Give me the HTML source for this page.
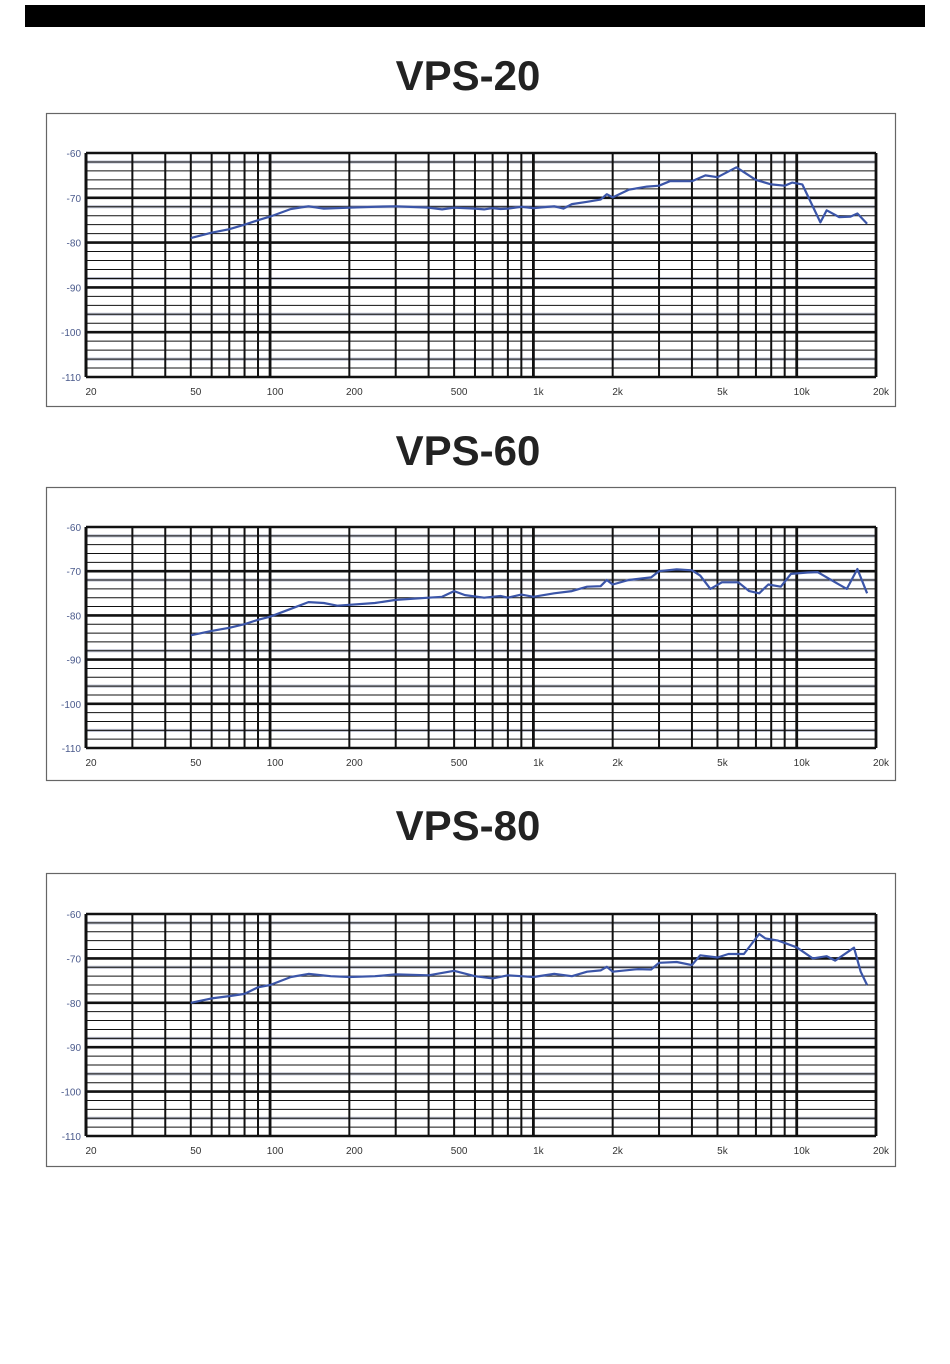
<!DOCTYPE html>
<html><head><meta charset="utf-8"><style>
body{margin:0;background:#fff;width:950px;height:1359px;overflow:hidden;font-family:"Liberation Sans",sans-serif}
</style></head><body>
<svg id="svg" width="950" height="1359" xmlns="http://www.w3.org/2000/svg">
<rect x="25" y="5" width="900" height="22" fill="#000"/>
</svg>
<script>
const titles=["VPS-20","VPS-60","VPS-80"];
const freqs1=[50,60,70,80,90,100,120,140,160,200,250,300,400,450,500,600,650,700,750,800,900,1000,1200,1300,1400,1600,1800,1900,2000,2300,2700,3000,3300,4000,4500,5000,5900,7000,8000,9000,9600,10500,12300,13000,14500,16000,17000,18500];
const db1=[-79,-77.8,-77,-76,-75,-74.2,-72.5,-71.9,-72.4,-72.2,-72,-71.9,-72.2,-72.6,-72.2,-72.4,-72.6,-72.3,-72.5,-72.4,-72,-72.3,-71.9,-72.4,-71.4,-70.9,-70.4,-69.2,-69.9,-68.2,-67.5,-67.3,-66.3,-66.3,-65,-65.4,-63.2,-66,-67,-67.3,-66.6,-67,-75.5,-72.8,-74.3,-74.2,-73.5,-75.8];
const freqs2=[50,60,70,80,90,100,120,140,160,180,250,300,400,450,500,550,650,750,800,900,1000,1200,1400,1600,1800,1900,2000,2300,2800,3000,3500,4000,4300,4700,5200,6000,6600,7200,7800,8700,9500,11000,12000,14000,15500,17000,18500];
const db2=[-84.5,-83.5,-82.8,-82,-81,-80.3,-78.5,-77,-77.2,-77.8,-77.2,-76.5,-76,-75.8,-74.5,-75.4,-76,-75.6,-76,-75.3,-75.8,-75,-74.5,-73.5,-73.4,-72,-73,-72,-71.4,-70,-69.6,-69.8,-71,-74,-72.5,-72.5,-74.5,-75,-73,-73.5,-70.6,-70.3,-70.2,-72.5,-74,-69.5,-75];
const freqs3=[50,60,70,80,90,100,120,140,170,200,250,300,400,500,600,700,800,900,1000,1200,1400,1600,1800,1900,2000,2500,2800,3000,3500,4000,4300,5000,5500,6300,7200,7600,8500,10000,11500,13000,14000,16500,17500,18500];
const db3=[-80,-79,-78.5,-78,-76.5,-76,-74.2,-73.5,-74,-74.2,-74,-73.6,-73.8,-72.8,-74,-74.5,-73.8,-74,-74.2,-73.5,-74,-73,-72.7,-71.9,-73,-72.4,-72.5,-71,-70.8,-71.5,-69.3,-69.8,-69,-69,-64.5,-65.5,-66,-67.5,-70,-69.5,-70.5,-67.6,-73,-76];
const xTickVals=[20,50,100,200,500,1000,2000,5000,10000,20000];
const xTickLabels=["20","50","100","200","500","1k","2k","5k","10k","20k"];
const yTickVals=[-60,-70,-80,-90,-100,-110];
const series=[[freqs1,db1],[freqs2,db2],[freqs3,db3]];
const svg=document.getElementById('svg');
const NS="http://www.w3.org/2000/svg";
function mk(tag,attrs,parent){const e=document.createElementNS(NS,tag);for(const k in attrs)e.setAttribute(k,attrs[k]);(parent||svg).appendChild(e);return e;}
const charts=[{ty:75,box:113,top:153,bot:377},{ty:450,box:487,top:527,bot:748},{ty:825,box:873,top:914,bot:1136}];
const X0=86,X1=876;
function xs(f){return X0+(X1-X0)*Math.log10(f/20)/3;}
charts.forEach((c,i)=>{
  const g=mk('g',{});
  
  
  const t=mk('text',{x:468,y:c.ty+15,'text-anchor':'middle','font-size':42,'font-weight':'bold',fill:'#222'},g);
  t.textContent=titles[i];
  
  
  const b=mk('rect',{x:46.5,y:c.box+0.5,width:849,height:293,fill:'#fff',stroke:'#666','stroke-width':1.2},g);
  
  
  const ys=v=>c.top+(c.bot-c.top)*(-60-v)/50;
  // grey bands
  [-62,-72,-88,-96,-106].forEach(v=>{const l=mk('line',{x1:X0,x2:X1,y1:ys(v),y2:ys(v),stroke:'#b8bccb','stroke-width':3},g);
    });
  for(let v=-60;v>=-110;v-=2){const major=v%10===0;
    const l=mk('line',{x1:X0,x2:X1,y1:ys(v),y2:ys(v),stroke:'#111','stroke-width':major?2.6:1},g);
    }
  for(let d=20;d<20000;d*=10){for(let m=1;m<10;m++){const f=d*m/2*2; const fr=(d/2)*m*2/2; }}
  const vf=[];[10,100,1000,10000].forEach(d=>{for(let m=1;m<10;m++){const f=d*m;if(f>=20&&f<=20000)vf.push(f);}});
  vf.forEach(f=>{const major=[20,100,1000,10000,20000].includes(f);
    const l=mk('line',{x1:xs(f),x2:xs(f),y1:c.top,y2:c.bot,stroke:'#111','stroke-width':major?2.8:2},g);
    });
  mk('line',{x1:X0,x2:X0,y1:c.top,y2:c.bot,stroke:'#111','stroke-width':3},g);
  yTickVals.forEach(v=>{const tt=mk('text',{x:X0-5,y:ys(v)+4,'text-anchor':'end','font-size':10,fill:'#4a5a8c'},g);tt.textContent=v;
    });
  xTickVals.forEach((f,k)=>{const tt=mk('text',{x:xs(f)+5,y:c.bot+18,'text-anchor':'middle','font-size':10,fill:'#333'},g);tt.textContent=xTickLabels[k];
    });
  const [F,D]=series[i];
  const p=mk('polyline',{points:F.map((f,k)=>xs(f).toFixed(1)+','+ys(D[k]).toFixed(1)).join(' '),fill:'none',stroke:'#3b55a8','stroke-width':2.2,'stroke-linejoin':'round'},g);
  
  
});
</script>
</body></html>
